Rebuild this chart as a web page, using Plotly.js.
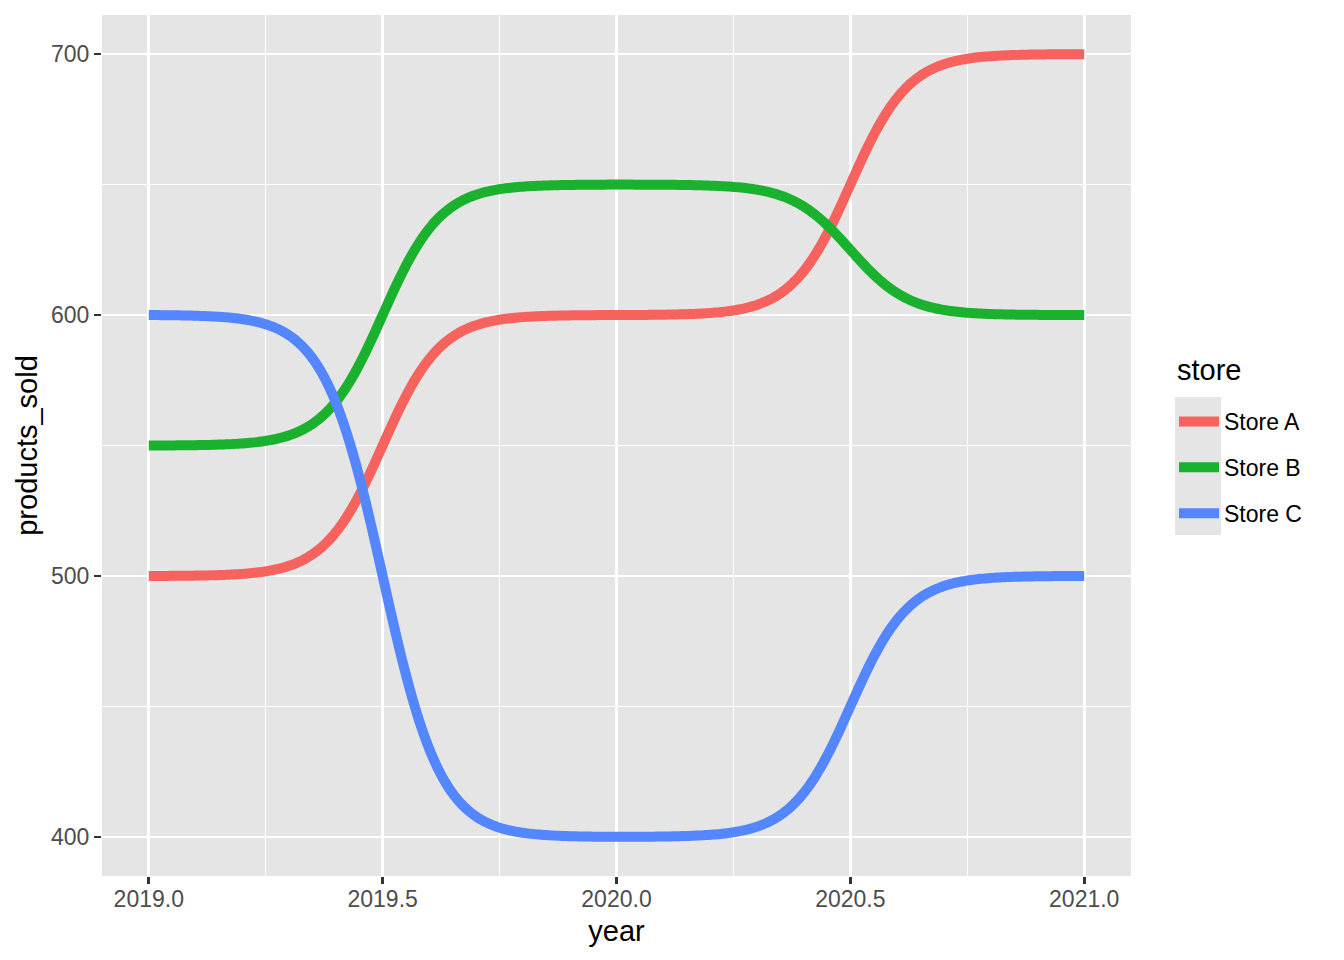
<!DOCTYPE html>
<html>
<head>
<meta charset="utf-8">
<script src="https://cdn.plot.ly/plotly-3.0.1.min.js"></script>
<style>html,body{margin:0;padding:0;background:#fff;}#chart{width:1344px;height:960px;}</style>
</head>
<body>
<div id="chart"></div>
<script>
// ---- data ----
const years = [2019, 2020, 2021];
const stores = ['Store A', 'Store B', 'Store C'];
const storeA = [500, 600, 700];
const storeB = [550, 650, 600];
const storeC = [600, 400, 500];
const colors = ['#F6625E', '#1AB12E', '#5386FF'];

// geom_bump-style sigmoid path between consecutive observations (rendering stat)
function bumpPath(xs, ys, smooth, n) {
  const px = [], py = [];
  for (let i = 0; i < xs.length - 1; i++) {
    const raw = [];
    for (let k = 0; k < n; k++) {
      const t = -5 + 10 * k / (n - 1);
      raw.push(Math.exp(smooth * t) / (Math.exp(smooth * t) + 1));
    }
    const mn = Math.min(...raw), mx = Math.max(...raw);
    for (let k = 0; k < n; k++) {
      if (i > 0 && k === 0) continue;
      px.push(xs[i] + (xs[i + 1] - xs[i]) * k / (n - 1));
      py.push(ys[i] + (ys[i + 1] - ys[i]) * (raw[k] - mn) / (mx - mn));
    }
  }
  return {x: px, y: py};
}

const series = [storeA, storeB, storeC];
const traces = series.map((vals, i) => {
  const p = bumpPath(years, vals, 1.6, 200);
  return {
    type: 'scatter', mode: 'lines', x: p.x, y: p.y, name: stores[i],
    legendgroup: stores[i],
    line: {color: colors[i], width: 10, shape: 'linear', simplify: false},
    hoverinfo: 'x+y+name'
  };
});

const font = 'Liberation Sans, Arial, Helvetica, sans-serif';
const layout = {
  width: 1344, height: 960,
  margin: {l: 102, r: 213, t: 15, b: 84},
  paper_bgcolor: '#FFFFFF',
  plot_bgcolor: '#E5E5E5',
  font: {family: font, color: '#000000'},
  showlegend: true,
  xaxis: {
    range: [2018.9, 2021.1], tickmode: 'linear', tick0: 2019, dtick: 0.5, tickformat: '.1f',
    showgrid: true, gridcolor: '#FFFFFF', gridwidth: 2.7, zeroline: false, showline: false,
    ticks: 'outside', ticklen: 7, tickwidth: 2.7, tickcolor: '#333333',
    tickfont: {family: font, size: 23, color: '#4D4D4D'}, ticklabelstandoff: -5,
    minor: {dtick: 0.25, tick0: 2019, showgrid: true, gridcolor: '#FFFFFF', gridwidth: 1.35, ticks: ''},
    title: {text: 'year', font: {family: font, size: 29, color: '#000000'}, standoff: 10},
    automargin: false, fixedrange: true
  },
  yaxis: {
    range: [385, 715], tickmode: 'linear', tick0: 400, dtick: 100,
    showgrid: true, gridcolor: '#FFFFFF', gridwidth: 2.7, zeroline: false, showline: false,
    ticks: 'outside', ticklen: 7, tickwidth: 2.7, tickcolor: '#333333',
    tickfont: {family: font, size: 23, color: '#4D4D4D'},
    minor: {dtick: 50, tick0: 400, showgrid: true, gridcolor: '#FFFFFF', gridwidth: 1.35, ticks: ''},
    title: {text: 'products_sold', font: {family: font, size: 29, color: '#000000'}, standoff: 4},
    automargin: false, fixedrange: true
  },
  legend: {
    x: (1174 - 102) / 1029, xanchor: 'left', y: (876 - 400) / 861, yanchor: 'top',
    bgcolor: 'rgba(0,0,0,0)', borderwidth: 0,
    font: {family: font, size: 23, color: '#000000'},
    tracegroupgap: 13, itemwidth: 40
  },
  annotations: [{
    text: 'store', xref: 'paper', yref: 'paper',
    x: (1175 - 102) / 1029, xanchor: 'left', y: (876 - 370) / 861, yanchor: 'middle',
    showarrow: false, font: {family: font, size: 29, color: '#000000'}
  }],
  shapes: [{
    type: 'rect', xref: 'paper', yref: 'paper',
    x0: (1175 - 102) / 1029, x1: (1221 - 102) / 1029,
    y0: (876 - 535) / 861, y1: (876 - 397) / 861,
    fillcolor: '#E5E5E5', line: {width: 0}, layer: 'below'
  }]
};

Plotly.newPlot('chart', traces, layout, {displayModeBar: false, staticPlot: true});
</script>
</body>
</html>
